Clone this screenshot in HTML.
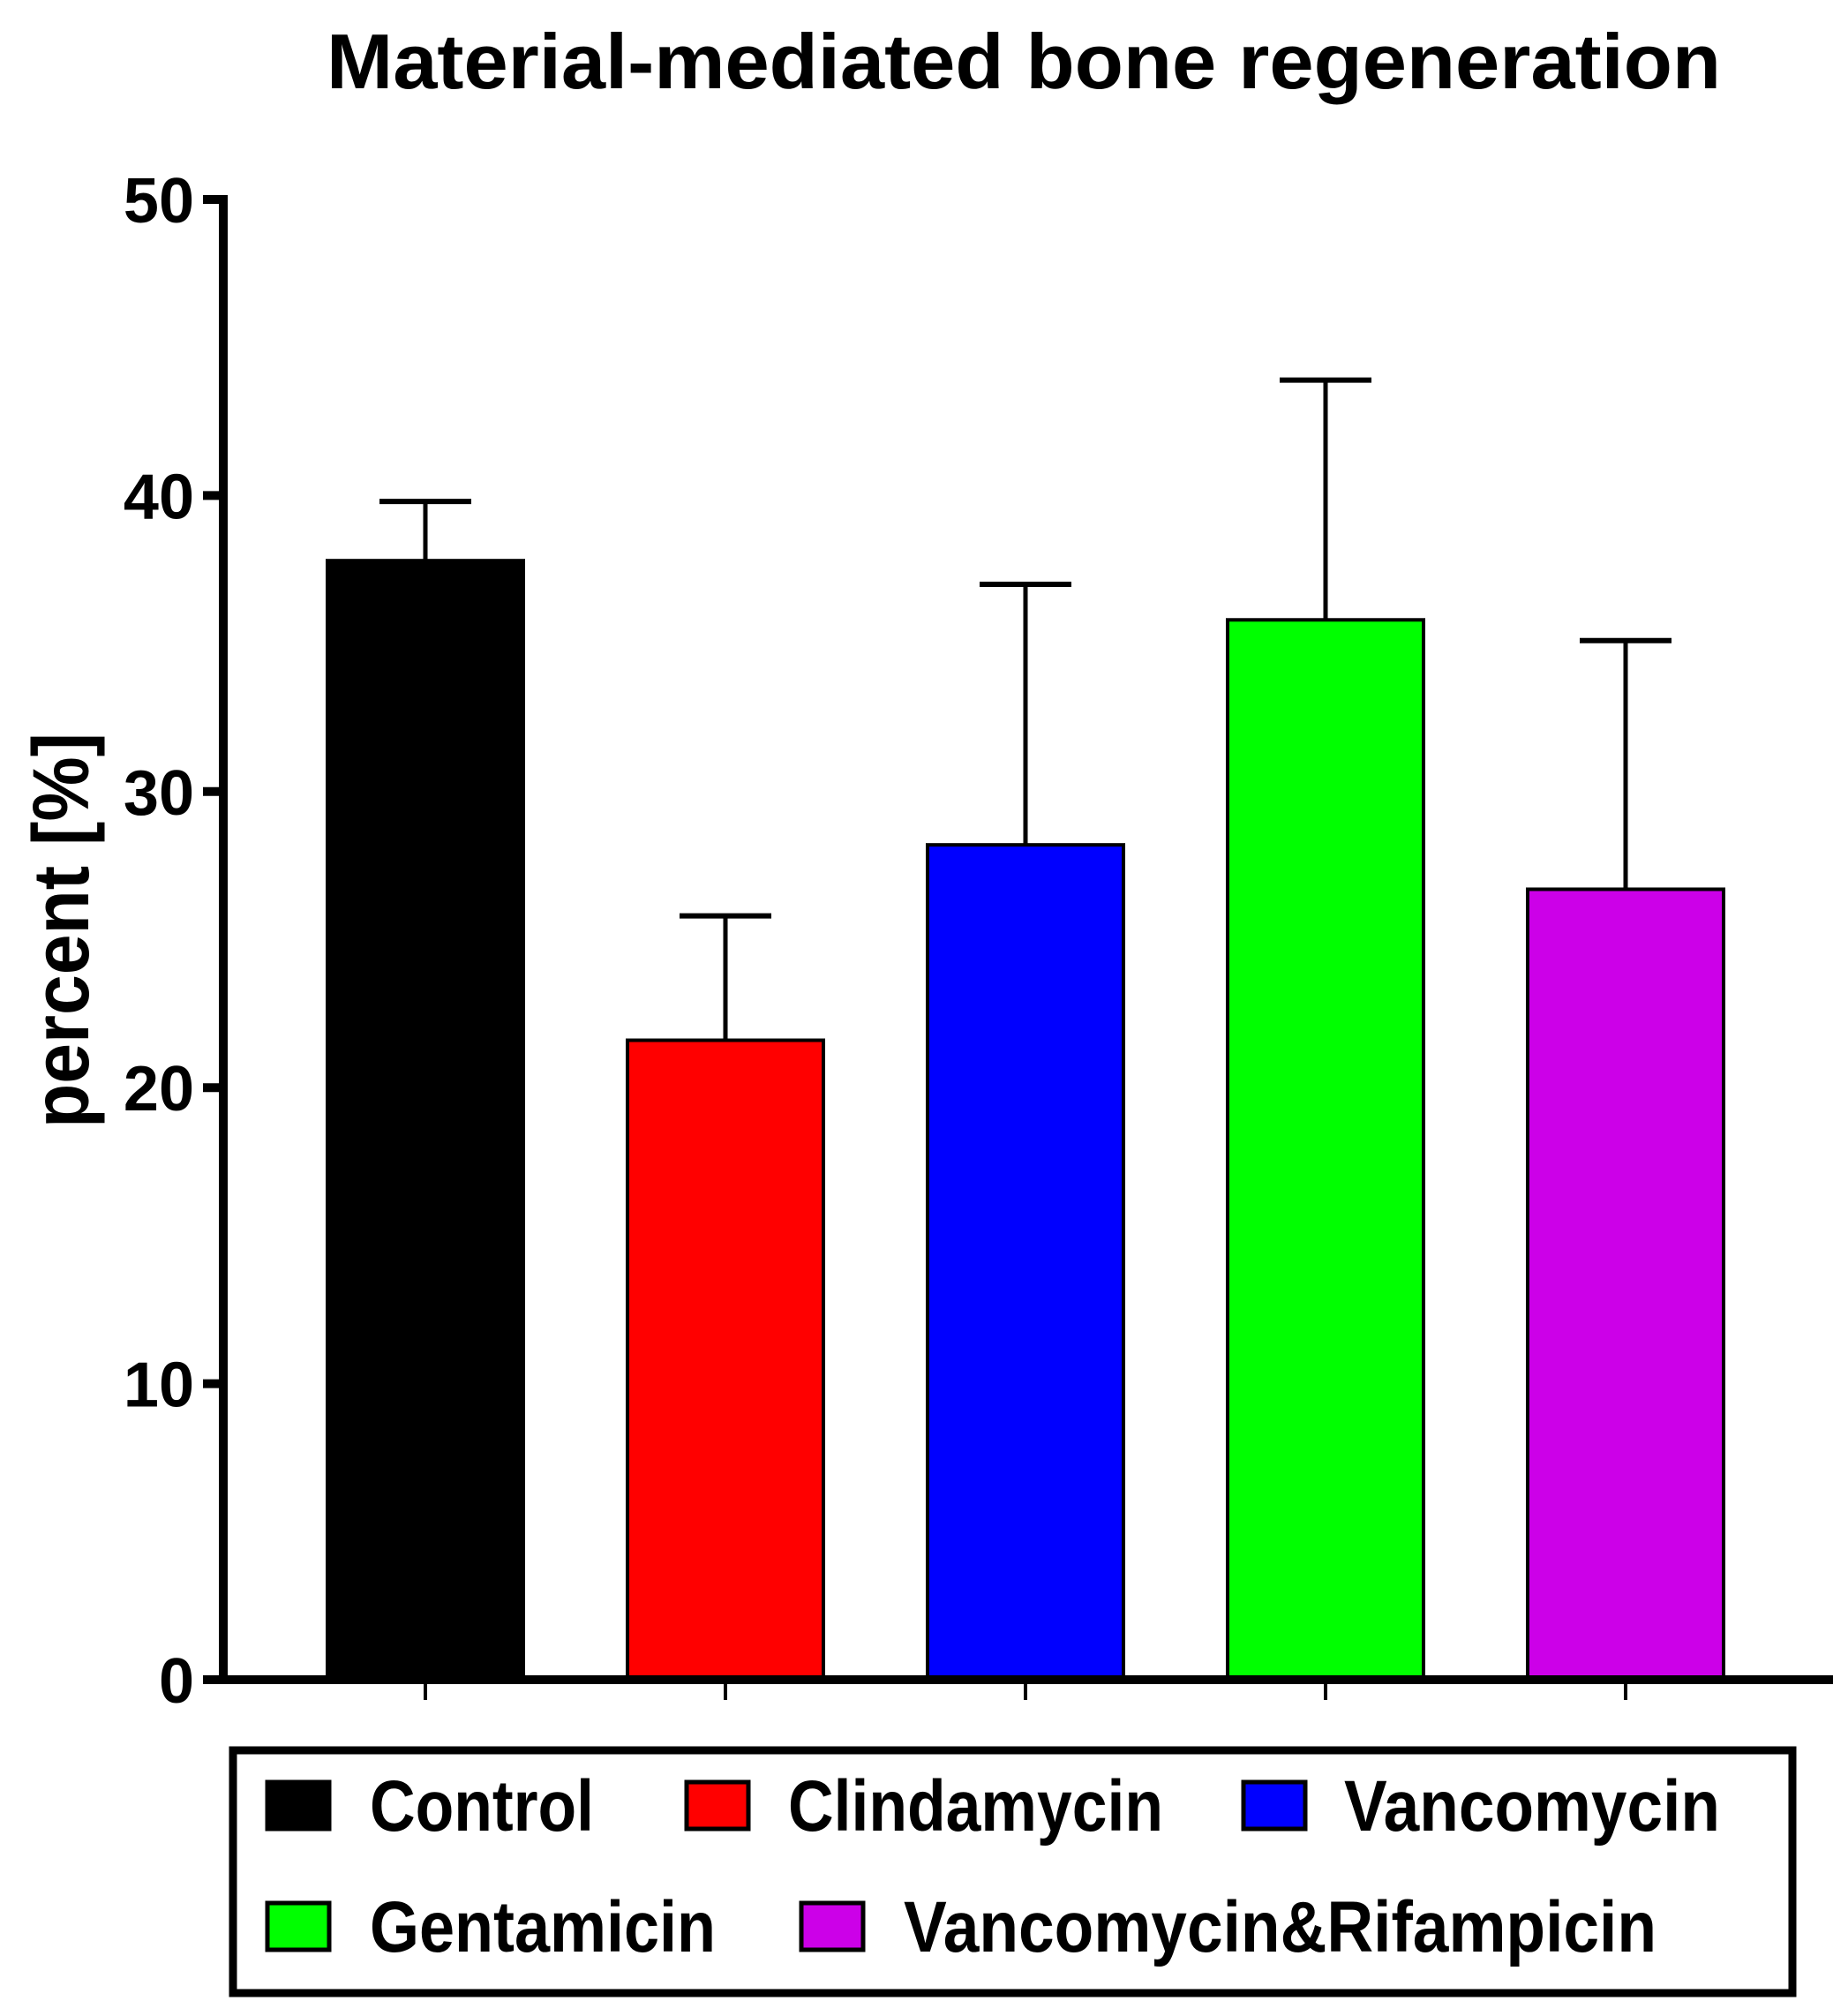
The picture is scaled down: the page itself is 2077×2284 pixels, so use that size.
<!DOCTYPE html>
<html><head><meta charset="utf-8"><style>html,body{margin:0;padding:0;background:#fff}svg{display:block}text{font-family:"Liberation Sans",Arial,sans-serif;font-weight:bold}</style></head>
<body>
<svg id="chart" width="2077" height="2284" viewBox="0 0 2077 2284" xmlns="http://www.w3.org/2000/svg">
<rect width="2077" height="2284" fill="#fff"/>
<text x="370" y="100" font-size="88" textLength="1580" lengthAdjust="spacingAndGlyphs">Material-mediated bone regeneration</text>
<text transform="translate(100,1054) rotate(-90)" text-anchor="middle" font-size="90" textLength="448" lengthAdjust="spacingAndGlyphs">percent [%]</text>
<g id="plot"></g>
<rect x="264" y="1983" width="1767" height="275" fill="none" stroke="#000" stroke-width="9"/>
<g id="legend"></g>
</svg>
<script>
const categories = ["Control","Clindamycin","Vancomycin","Gentamicin","Vancomycin&Rifampicin"];
const means = [37.8, 21.6, 28.2, 35.8, 26.7];
const errTops = [39.8, 25.8, 37.0, 43.9, 35.1];
const colors = ["#000000","#ff0000","#0000ff","#00ff00","#cc00e8"];
const yTicks = [0,10,20,30,40,50];

const NS="http://www.w3.org/2000/svg";
const plot=document.getElementById('plot');
const y0=1903, y50=226;
const y=v=>y0-(v/50)*(y0-y50);
const x=i=>482+i*340;
const bw=222;
function mk(tag,attrs,parent){const e=document.createElementNS(NS,tag);for(const k in attrs)e.setAttribute(k,attrs[k]);(parent||plot).appendChild(e);return e;}

categories.forEach((c,i)=>{
  const cx=x(i);
  const eb=mk('line',{x1:cx,x2:cx,y1:y(means[i]),y2:y(errTops[i]),stroke:'#000','stroke-width':5});
  
  
  const cap=mk('line',{x1:cx-52,x2:cx+52,y1:y(errTops[i]),y2:y(errTops[i]),stroke:'#000','stroke-width':6});
  
  
  const b=mk('rect',{x:cx-bw/2,y:y(means[i]),width:bw,height:y(0)-y(means[i]),fill:colors[i],stroke:'#000','stroke-width':4});
  
  
  const t=mk('line',{x1:cx,x2:cx,y1:y0,y2:1926,stroke:'#000','stroke-width':4});
  
  
});
yTicks.forEach(v=>{
  const t=mk('line',{x1:230,x2:253,y1:y(v),y2:y(v),stroke:'#000','stroke-width':10});
  
  
  const l=mk('text',{x:220,y:y(v)+26,'text-anchor':'end','font-size':72});
  l.textContent=v;
  
  
});
const ya=mk('line',{x1:253,x2:253,y1:y50-5,y2:y0+5,stroke:'#000','stroke-width':10});


const xa=mk('line',{x1:248,x2:2077,y1:y0,y2:y0,stroke:'#000','stroke-width':10});



const lg=document.getElementById('legend');
const legPos=[[301,419,2017,254],[776,893,2017,425],[1407,1523,2017,426],[301,419,2154,392],[906,1024,2154,853]];
categories.forEach((c,i)=>{
  const p=legPos[i];
  const s=mk('rect',{x:p[0]+2,y:p[2]+2,width:70,height:53,fill:colors[i],stroke:'#000','stroke-width':5},lg);
  
  
  const t=mk('text',{x:p[1],y:p[2]+57,'font-size':82,textLength:p[3],lengthAdjust:'spacingAndGlyphs'},lg);
  t.textContent=c;
  
  
});
</script>
</body></html>
